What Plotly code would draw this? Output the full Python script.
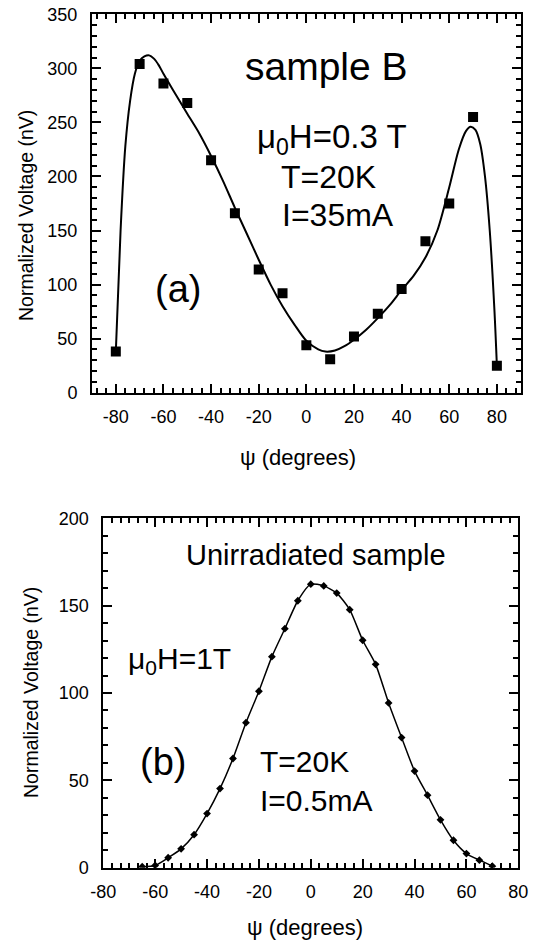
import plotly.graph_objects as go

# ---------------- data ----------------
# panel (a): sample B, measured points
psi_a = [-80, -70, -60, -50, -40, -30, -20, -10, 0, 10, 20, 30, 40, 50, 60, 70, 80]
volt_a = [38, 304, 286, 268, 215, 166, 114, 92, 44, 31, 52, 73, 96, 140, 175, 255, 25]

# panel (a): fitted curve
fit_psi_a = [-80, -78, -76, -74, -72, -70, -68, -66, -64, -62, -60, -56, -50, -45, -40,
             -35, -30, -25, -20, -15, -10, -5, 0, 5, 8, 12, 16, 20, 25, 30, 35, 40,
             45, 50, 55, 60, 64, 67, 69, 71, 73, 75, 77, 79, 80]
fit_volt_a = [38, 150, 228, 270, 295, 307, 311, 312, 309, 303, 295, 280, 258, 240, 219,
              196, 171, 147, 123, 100, 80, 63, 48, 40, 38, 39, 43, 49, 58, 69, 81, 95,
              108, 125, 150, 190, 225, 242, 246, 243, 230, 200, 150, 75, 25]

# panel (b): unirradiated sample
psi_b = [-65, -60, -55, -50, -45, -40, -35, -30, -25, -20, -15, -10, -5, 0, 5, 10, 15,
         20, 25, 30, 35, 40, 45, 50, 55, 60, 65, 70]
volt_b = [0.6, 1.3, 5.7, 10.8, 18.9, 31, 45.3, 62.5, 83, 101, 120.8, 136.8, 152.8, 162.3,
          161.3, 157.2, 147.7, 130.2, 116.4, 94.3, 74.5, 55.3, 41.5, 27.4, 15.7, 8.1, 4.3, 0.9]

x_ticks = [-80, -60, -40, -20, 0, 20, 40, 60, 80]
x_tick_labels = ["-80", "-60", "-40", "-20", "0", "20", "40", "60", "80"]
y_ticks_a = [0, 50, 100, 150, 200, 250, 300, 350]
y_ticks_b = [0, 50, 100, 150, 200]

# ---------------- layout helpers ----------------
W, H = 536, 947
FONT = "Liberation Sans, Arial, Helvetica, sans-serif"


def px(x):
    return x / W


def py(y):
    return 1 - y / H


fig = go.Figure()

fig.add_trace(go.Scatter(x=fit_psi_a, y=fit_volt_a, mode="lines",
                         line=dict(color="black", width=2, shape="spline", smoothing=0.8),
                         xaxis="x", yaxis="y", showlegend=False, hoverinfo="skip"))
fig.add_trace(go.Scatter(x=psi_a, y=volt_a, mode="markers",
                         marker=dict(symbol="square", size=10, color="black"),
                         xaxis="x", yaxis="y", showlegend=False))
fig.add_trace(go.Scatter(x=psi_b, y=volt_b, mode="lines+markers",
                         line=dict(color="black", width=1.5, shape="spline", smoothing=0.6),
                         marker=dict(symbol="diamond", size=6, color="black"),
                         xaxis="x2", yaxis="y2", showlegend=False))

common = dict(showline=True, linecolor="black", linewidth=2, mirror="allticks",
              ticks="inside", ticklen=9, tickwidth=2, tickcolor="black",
              showgrid=False, zeroline=False, automargin=False,
              tickfont=dict(family=FONT, size=18, color="black"))

fig.update_layout(
    template="none",
    width=W, height=H,
    margin=dict(l=0, r=0, t=0, b=0, pad=0, autoexpand=False),
    paper_bgcolor="white", plot_bgcolor="white",
    font=dict(family=FONT, color="black"),
    showlegend=False,
    xaxis=dict(domain=[px(92), px(520.7)], anchor="y", range=[-90, 90],
               tickvals=x_ticks, ticktext=x_tick_labels, ticklabelstandoff=7,
               minor=dict(ticks="inside", dtick=4, tick0=0, ticklen=5, tickwidth=2,
                          tickcolor="black", showgrid=False),
               **common),
    yaxis=dict(domain=[py(392.7), py(14.3)], anchor="x", range=[0, 350],
               tickvals=y_ticks_a, ticklabelstandoff=9,
               minor=dict(ticks="inside", dtick=10, tick0=0, ticklen=5, tickwidth=2,
                          tickcolor="black", showgrid=False),
               **common),
    xaxis2=dict(domain=[px(103.3), px(518.3)], anchor="y2", range=[-80, 80],
                tickvals=x_ticks, ticktext=x_tick_labels, ticklabelstandoff=7,
                minor=dict(ticks="inside", dtick=20 / 6, tick0=0, ticklen=5, tickwidth=2,
                           tickcolor="black", showgrid=False),
                **common),
    yaxis2=dict(domain=[py(867.7), py(518.3)], anchor="x2", range=[0, 200],
                tickvals=y_ticks_b, ticklabelstandoff=9,
                minor=dict(ticks="inside", dtick=10, tick0=0, ticklen=5, tickwidth=2,
                           tickcolor="black", showgrid=False),
                **common),
)


def note(text, x, y, size, xanchor="center", angle=0):
    fig.add_annotation(text=text, x=px(x), y=py(y), xref="paper", yref="paper",
                       xanchor=xanchor, yanchor="middle", showarrow=False,
                       textangle=angle,
                       font=dict(family=FONT, size=size, color="black"))


# axis titles
note("Normalized Voltage (nV)", 26, 216, 19.5, angle=-90)
note("ψ (degrees)", 298, 457, 22)
note("Normalized Voltage (nV)", 31, 693, 19.5, angle=-90)
note("ψ (degrees)", 305, 927, 22)

# panel (a) texts
note("sample B", 326, 67, 39)
note("μ<sub>0</sub>H=0.3 T", 332, 139, 33)
note("T=20K", 328, 177, 32)
note("I=35mA", 338, 215, 32)
note("(a)", 178, 289, 38)

# panel (b) texts
note("Unirradiated sample", 316, 555, 29)
note("μ<sub>0</sub>H=1T", 179, 660, 30)
note("(b)", 163, 762, 38)
note("T=20K", 257.7, 761, 30, xanchor="left")
note("I=0.5mA", 257.7, 800, 30, xanchor="left")

fig.write_html(
    "out.html",
    config={"displayModeBar": False},
    post_script="document.body.style.margin='0';document.body.style.padding='0';"
                "document.body.style.overflow='hidden';",
)
